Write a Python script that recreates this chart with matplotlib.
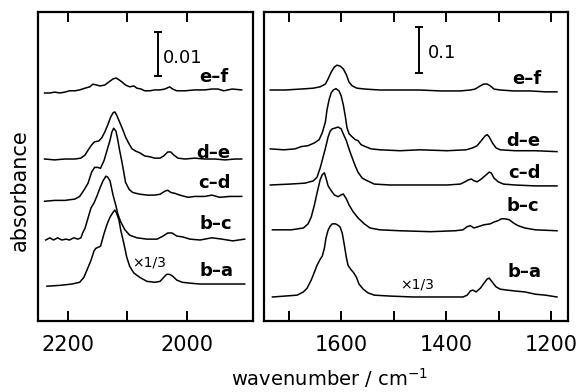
import matplotlib
matplotlib.use("Agg")
import matplotlib.pyplot as plt
import numpy as np

plt.rcParams['font.family'] = ['DejaVu Sans']

# ---------------- data: left panel (2250-1890 cm-1), values in 1e-3 absorbance ----------------
L_ef_wn = [2239, 2230, 2222, 2213, 2205, 2197, 2188, 2180, 2171, 2163, 2158, 2151, 2146, 2138, 2129, 2124,
           2119, 2114, 2109, 2103, 2096, 2089, 2084, 2077, 2071, 2062, 2054, 2045, 2037, 2029, 2024, 2017,
           2003, 1987, 1970, 1958, 1948, 1938, 1924, 1908]
L_ef_mA = [0, 0, 0.2, 0, 0.2, 0.5, 0.5, 0.7, 1.1, 1.4, 2.0, 1.8, 1.6, 1.8, 2.7, 3.2,
           3.4, 3.0, 2.5, 1.8, 1.4, 1.6, 1.1, 0.9, 0.5, 0.5, 0.7, 0.7, 0.9, 1.4, 0.9, 0.5,
           0.5, 0.7, 0.7, 0.9, 0.9, 0.5, 0.9, 0.7]

L_de_wn = [2239, 2222, 2205, 2188, 2178, 2171, 2166, 2160, 2155, 2148, 2143, 2138, 2133, 2128, 2124, 2121,
           2118, 2113, 2108, 2103, 2097, 2092, 2086, 2079, 2071, 2062, 2054, 2045, 2039, 2032, 2027, 2022,
           2015, 2003, 1987, 1970, 1953, 1936, 1919, 1908]
L_de_mA = [0, -0.2, 0, 0, 0.2, 0.9, 2.0, 3.2, 3.9, 4.1, 4.8, 6.1, 7.7, 9.5, 10.5, 10.7,
           10.0, 8.4, 6.8, 5.0, 3.4, 2.3, 1.8, 1.4, 0.7, 0.5, 0.2, 0.2, 0.7, 1.6, 1.6, 0.9,
           0.2, 0, 0.2, 0, 0, -0.2, 0, 0]

L_cd_wn = [2239, 2222, 2205, 2188, 2180, 2173, 2166, 2160, 2155, 2150, 2145, 2139, 2134, 2129, 2126, 2123,
           2119, 2116, 2113, 2109, 2106, 2103, 2097, 2091, 2079, 2066, 2054, 2045, 2037, 2032, 2027, 2020,
           2012, 1998, 1987, 1970, 1958, 1945, 1928, 1908]
L_cd_mA = [0, 0.2, 0.2, 0.5, 1.1, 2.5, 4.1, 6.6, 7.7, 7.7, 7.5, 9.3, 11.6, 13.9, 15.7, 16.6,
           15.9, 13.9, 11.6, 8.9, 6.6, 4.3, 2.7, 2.0, 1.6, 1.4, 1.4, 1.6, 2.3, 2.5, 2.0, 1.8,
           1.4, 0.9, 1.1, 1.1, 1.4, 0.9, 1.1, 1.1]

L_bc_wn = [2237, 2230, 2224, 2217, 2210, 2203, 2197, 2190, 2183, 2178, 2175, 2171, 2166, 2161, 2156, 2151,
           2146, 2141, 2136, 2133, 2129, 2124, 2119, 2116, 2111, 2104, 2096, 2084, 2067, 2050, 2040, 2032,
           2025, 2017, 2007, 1995, 1978, 1958, 1941, 1923, 1903]
L_bc_mA = [0, 0.5, 0, 0.5, 0, 0.2, 0, 0.5, 0.2, 0.5, 1.6, 2.7, 5.0, 7.3, 8.4, 10.0,
           11.8, 13.4, 14.5, 14.3, 13.4, 10.2, 7.7, 5.9, 4.1, 2.3, 1.1, 0.5, 0.2, 0.2, 0.9, 1.6,
           1.6, 0.9, 0.7, 0.2, 0, 0.5, 0.2, -0.2, 0.2]

L_ba_wn = [2235, 2213, 2193, 2180, 2173, 2168, 2161, 2156, 2153, 2148, 2145, 2139, 2134, 2129, 2124, 2121,
           2118, 2114, 2111, 2106, 2101, 2096, 2089, 2079, 2067, 2054, 2045, 2039, 2034, 2029, 2024, 2017,
           2008, 1995, 1978, 1950, 1919, 1903]
L_ba_mA = [0, 0.2, 0.5, 0.9, 2.0, 3.6, 5.9, 8.0, 8.6, 8.9, 9.1, 12.0, 14.1, 15.7, 16.8, 17.3,
           16.6, 15.0, 12.7, 9.8, 6.6, 4.5, 3.0, 2.0, 1.1, 0.9, 1.1, 2.0, 2.7, 2.7, 2.3, 1.4,
           0.9, 0.7, 0.5, 0.5, 0.5, 0.5]

# ---------------- data: right panel (1750-1170 cm-1), values in 1e-3 absorbance ----------------
R_ef_wn = [1735, 1707, 1678, 1653, 1640, 1630, 1625, 1619, 1613, 1608, 1602, 1596, 1590, 1585, 1579, 1570,
           1554, 1526, 1488, 1450, 1411, 1373, 1354, 1345, 1335, 1328, 1322, 1316, 1309, 1297, 1272, 1240,
           1211, 1189]
R_ef_mA = [0, 0, 2, 4, 7, 13, 24, 39, 50, 54, 52, 46, 33, 17, 9, 4,
           2, 0, 0, 0, -2, -2, 0, 2, 9, 13, 13, 9, 2, 0, -2, -2,
           -4, -4]

R_de_wn = [1735, 1709, 1688, 1676, 1663, 1651, 1642, 1636, 1630, 1627, 1623, 1619, 1615, 1610, 1604, 1600,
           1596, 1592, 1589, 1585, 1579, 1573, 1568, 1562, 1554, 1543, 1526, 1488, 1450, 1398, 1362, 1350,
           1341, 1333, 1326, 1322, 1318, 1312, 1305, 1297, 1269, 1230, 1189]
R_de_mA = [2, 0, 2, 7, 9, 15, 22, 37, 61, 87, 109, 124, 130, 133, 128, 117,
           98, 72, 48, 35, 28, 22, 20, 11, 7, 2, 0, -2, 0, -2, 0, 4,
           9, 20, 30, 33, 28, 15, 4, 0, -2, -2, -4]

R_cd_wn = [1735, 1697, 1669, 1653, 1646, 1640, 1636, 1630, 1625, 1621, 1617, 1611, 1606, 1600, 1596, 1590,
           1585, 1579, 1573, 1568, 1560, 1550, 1537, 1507, 1450, 1398, 1373, 1364, 1358, 1352, 1347, 1341,
           1333, 1326, 1318, 1314, 1309, 1301, 1291, 1269, 1230, 1189]
R_cd_mA = [0, 2, 4, 9, 17, 37, 54, 80, 104, 117, 122, 124, 126, 122, 111, 96,
           78, 59, 41, 28, 15, 9, 2, 0, 0, 0, 2, 7, 11, 13, 9, 7,
           13, 20, 28, 26, 15, 7, 2, 0, -2, -2]

R_bc_wn = [1731, 1695, 1672, 1663, 1657, 1651, 1646, 1640, 1636, 1632, 1629, 1625, 1619, 1613, 1606, 1600,
           1596, 1590, 1585, 1577, 1568, 1556, 1545, 1526, 1488, 1430, 1383, 1368, 1360, 1354, 1347, 1339,
           1328, 1316, 1309, 1301, 1295, 1288, 1280, 1272, 1263, 1250, 1230, 1189]
R_bc_mA = [0, 0, 4, 13, 28, 54, 80, 109, 120, 124, 113, 96, 85, 76, 72, 76,
           78, 67, 54, 39, 26, 13, 4, 0, -2, -4, -2, 0, 7, 9, 4, 7,
           11, 13, 17, 20, 24, 24, 22, 15, 9, 4, 0, -2]

R_ba_wn = [1731, 1707, 1684, 1672, 1665, 1657, 1651, 1646, 1640, 1636, 1632, 1629, 1625, 1621, 1617, 1611,
           1606, 1602, 1598, 1594, 1590, 1587, 1581, 1577, 1571, 1566, 1558, 1549, 1537, 1507, 1463, 1398,
           1368, 1360, 1354, 1349, 1343, 1335, 1328, 1322, 1318, 1312, 1305, 1297, 1284, 1269, 1250, 1230,
           1211, 1189]
R_ba_mA = [-2, 0, 2, 9, 17, 35, 52, 67, 80, 87, 104, 126, 143, 152, 157, 157,
           154, 150, 137, 111, 83, 67, 57, 52, 41, 26, 15, 7, 2, 0, -2, -2,
           -2, 2, 11, 13, 9, 17, 28, 37, 39, 30, 20, 15, 13, 11, 9, 4,
           2, -2]

trace_names = ['e–f', 'd–e', 'c–d', 'b–c', 'b–a']
left_offsets = [0.0516, 0.0366, 0.0270, 0.0182, 0.0077]     # absorbance
right_offsets = [0.500, 0.370, 0.2935, 0.196, 0.052]        # absorbance

left_wn = [L_ef_wn, L_de_wn, L_cd_wn, L_bc_wn, L_ba_wn]
left_mA = [L_ef_mA, L_de_mA, L_cd_mA, L_bc_mA, L_ba_mA]
right_wn = [R_ef_wn, R_de_wn, R_cd_wn, R_bc_wn, R_ba_wn]
right_mA = [R_ef_mA, R_de_mA, R_cd_mA, R_bc_mA, R_ba_mA]

left_ticks = [2200, 2100, 2000]
left_ticklabels = ['2200', '', '2000']
right_ticks = [1700, 1600, 1500, 1400, 1300, 1200]
right_ticklabels = ['', '1600', '', '1400', '', '1200']

# ---------------- figure ----------------
W, H = 577, 392
fig = plt.figure(figsize=(W / 100, H / 100), dpi=100)

axL = fig.add_axes([38 / W, 1 - 321 / H, (253 - 38) / W, (321 - 12) / H])
axR = fig.add_axes([264 / W, 1 - 321 / H, (568 - 264) / W, (321 - 12) / H])

lw = 1.1
for wn, mA, off in zip(left_wn, left_mA, left_offsets):
    axL.plot(wn, off + np.array(mA) * 1e-3, color='black', lw=lw)
for wn, mA, off in zip(right_wn, right_mA, right_offsets):
    axR.plot(wn, off + np.array(mA) * 1e-3, color='black', lw=lw)

axL.set_xlim(2250, 1889)
axL.set_ylim(-0.0002, 0.0700)
axR.set_xlim(1747, 1168)
axR.set_ylim(-0.0022, 0.6696)

for ax, ticks, labels in [(axL, left_ticks, left_ticklabels), (axR, right_ticks, right_ticklabels)]:
    ax.set_xticks(ticks)
    ax.set_xticklabels(labels)
    ax.set_yticks([])
    ax.tick_params(axis='x', direction='in', top=True, bottom=True, length=7, width=1.4,
                   labelsize=15, pad=10)
    for s in ax.spines.values():
        s.set_linewidth(1.6)

# trace labels
lab_kw = dict(fontsize=13, fontweight='bold', ha='center', va='center')
left_label_pos = [(1955, 0.0552), (1955, 0.0380), (1953, 0.0311), (1951, 0.0218), (1950, 0.0111)]
right_label_pos = [(1246, 0.524), (1253, 0.389), (1251, 0.320), (1255, 0.248), (1251, 0.104)]
for name, (x, y) in zip(trace_names, left_label_pos):
    axL.text(x, y, name, **lab_kw)
for name, (x, y) in zip(trace_names, right_label_pos):
    axR.text(x, y, name, **lab_kw)

axL.text(2064, 0.0130, '×1/3', fontsize=10, ha='center', va='center')
axR.text(1455, 0.0761, '×1/3', fontsize=10, ha='center', va='center')

# scale bars
axL.errorbar([2049], [0.06045], yerr=[0.005], color='black', capsize=3, capthick=1.4, elinewidth=1.4)
axL.text(2041, 0.0595, '0.01', fontsize=13, ha='left', va='center')
axR.errorbar([1451], [0.587], yerr=[0.05], color='black', capsize=3, capthick=1.4, elinewidth=1.4)
axR.text(1434, 0.580, '0.1', fontsize=13, ha='left', va='center')

fig.text(20 / W, 1 - 190 / H, 'absorbance', rotation=90, fontsize=15, ha='center', va='center')
fig.text(330 / W, 1 - 378 / H, 'wavenumber / cm$^{-1}$', fontsize=14, ha='center', va='center')

fig.savefig('out.png', dpi=100)
